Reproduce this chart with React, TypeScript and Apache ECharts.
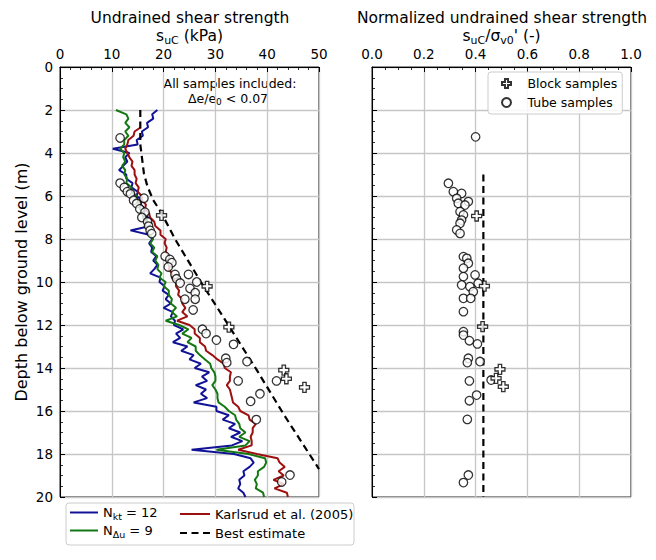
import React, { useEffect, useRef } from "react";
import * as echarts from "echarts";

// ---- Data ----
// CPT-derived profiles, depth in m, s_uC in kPa
const DEPTH = [
  2.0, 2.2, 2.4, 2.6, 2.8, 3.0, 3.2, 3.4, 3.6, 3.8,
  4.0, 4.2, 4.4, 4.6, 4.8, 5.0, 5.2, 5.4, 5.6, 5.8,
  6.0, 6.2, 6.4, 6.6, 6.8, 7.0, 7.2, 7.4, 7.6, 7.8,
  8.0, 8.2, 8.4, 8.6, 8.8, 9.0, 9.2, 9.4, 9.6, 9.8,
  10.0, 10.2, 10.4, 10.6, 10.8, 11.0, 11.2, 11.4, 11.6, 11.8,
  12.0, 12.2, 12.4, 12.6, 12.8, 13.0, 13.2, 13.4, 13.6, 13.8,
  14.0, 14.2, 14.4, 14.6, 14.8, 15.0, 15.2, 15.4, 15.6, 15.8,
  16.0, 16.2, 16.4, 16.6, 16.8, 17.0, 17.2, 17.4, 17.6, 17.8,
  18.0, 18.2, 18.4, 18.6, 18.8, 19.0, 19.2, 19.4, 19.6, 19.8,
  20.0,
];
const SU_NKT12 = [
  18.8, 17.8, 18.0, 16.8, 17.0, 15.8, 16.0, 14.8, 15.0, 10.2,
  13.4, 12.6, 13.0, 12.2, 11.4, 12.8, 12.8, 14.0, 13.8, 15.0,
  14.8, 15.8, 15.6, 16.4, 16.2, 17.0, 16.6, 17.4, 13.6, 17.2,
  17.8, 17.2, 17.8, 17.6, 18.6, 18.0, 18.8, 18.2, 17.4, 19.4,
  19.2, 20.2, 19.8, 21.0, 20.4, 21.4, 20.0, 21.8, 21.4, 22.2,
  22.0, 23.8, 22.4, 23.2, 21.8, 24.6, 23.4, 25.8, 25.0, 27.2,
  26.0, 28.8, 27.4, 28.4, 26.2, 28.2, 27.2, 28.4, 25.8, 30.2,
  30.2, 32.6, 31.4, 33.8, 32.6, 34.8, 33.0, 35.2, 33.2, 25.4,
  33.6, 36.8, 37.4, 36.6, 35.4, 35.6, 34.6, 34.8, 34.4, 35.4,
  35.8,
];
const SU_NDU9 = [
  10.8, 12.8, 13.2, 12.6, 13.4, 12.6, 13.2, 12.4, 12.4, 11.6,
  12.4, 12.2, 12.6, 12.0, 12.6, 12.4, 13.0, 12.8, 13.8, 13.8,
  14.8, 14.6, 15.6, 15.4, 16.2, 16.0, 16.8, 16.6, 17.4, 17.2,
  18.0, 17.4, 18.2, 17.8, 18.8, 18.4, 19.0, 18.8, 19.6, 19.2,
  20.4, 20.0, 21.0, 21.0, 21.6, 21.4, 22.4, 21.6, 22.6, 20.4,
  23.0, 24.8, 23.6, 25.4, 24.6, 26.2, 26.2, 27.0, 28.0, 29.0,
  29.2, 29.8, 30.0, 30.0, 29.4, 30.0, 30.4, 30.4, 30.6, 31.8,
  32.6, 33.8, 34.0, 34.6, 34.8, 35.8, 34.6, 36.6, 35.8, 30.2,
  36.4, 39.6, 39.8, 39.4, 38.2, 38.2, 37.6, 38.0, 37.8, 39.2,
  39.4,
];
const SU_KARLSRUD = [
  null, null, null, null, 15.6, 14.4, 14.2, 13.2, 13.0, 12.6,
  13.0, 13.4, 14.0, 13.8, 14.4, 14.4, 14.8, 14.6, 15.2, 15.0,
  15.8, 15.8, 16.6, 16.4, 17.2, 17.4, 18.2, 18.4, 19.4, 19.4,
  20.4, 20.2, 20.6, 20.4, 21.0, 20.6, 21.2, 21.0, 21.6, 21.6,
  22.4, 22.4, 23.0, 22.8, 23.6, 23.6, 24.2, 23.6, 24.6, 22.6,
  25.0, 26.0, 26.0, 27.0, 27.0, 28.0, 28.2, 29.4, 30.4, 31.6,
  31.8, 33.0, 32.8, 32.8, 32.2, 32.8, 33.0, 33.2, 33.4, 34.4,
  34.8, 36.4, 36.6, 37.8, 37.2, 37.2, 36.8, 37.0, 37.0, 34.4,
  38.0, 42.0, 42.4, 43.4, 42.2, 43.2, 41.2, 43.2, 41.4, 43.8,
  44.0,
];
const BEST_SU = [15.5, 15.5, 16.2, 16.9, 18.0, 19.6, 22.2, 27.2, 32.5, 38.0, 43.3, 50.0];
const BEST_DEPTH = [2.0, 3.6, 4.95, 5.57, 6.19, 6.8, 8.0, 10.0, 12.0, 14.1, 16.2, 18.7];

// Laboratory samples (left panel)
const TUBE_SU = [
  11.6, 11.6, 12.4, 13.0, 13.6, 16.2, 14.2, 14.8, 15.4, 16.4, 15.8, 16.9, 17.1, 17.4, 17.7,
  20.3, 21.2, 21.6, 20.9, 22.2, 24.8, 22.5, 26.4, 23.2, 25.1, 26.1, 24.1, 26.1, 25.7,
  27.5, 28.2, 30.2, 33.5, 32.0, 32.2, 36.1, 34.4, 41.8, 38.6, 36.8, 37.9, 44.4, 42.8,
];
const TUBE_DEPTH = [
  3.3, 5.4, 5.6, 5.8, 5.9, 6.1, 6.2, 6.35, 6.6, 6.75, 7.0, 7.2, 7.4, 7.6, 7.75,
  8.8, 8.95, 9.1, 9.3, 9.65, 9.65, 9.85, 10.0, 10.05, 10.3, 10.5, 10.8, 10.8, 11.3,
  12.2, 12.4, 12.7, 12.9, 13.55, 13.75, 13.7, 14.6, 14.6, 15.2, 15.55, 16.4, 18.98, 19.3,
];
const BLOCK_SU = [19.6, 28.4, 32.6, 43.2, 43.7, 47.2];
const BLOCK_DEPTH = [6.9, 10.2, 12.1, 14.1, 14.5, 14.9];

// Normalized (right panel)
const TUBE_RATIO = [
  0.40, 0.295, 0.314, 0.346, 0.327, 0.372, 0.333, 0.359, 0.34, 0.353, 0.346, 0.34, 0.327, 0.34,
  0.353, 0.366, 0.372, 0.353, 0.398, 0.353, 0.346, 0.378, 0.41, 0.391, 0.353, 0.381, 0.353,
  0.353, 0.353, 0.376, 0.407, 0.372, 0.368, 0.417, 0.46, 0.376, 0.404, 0.376, 0.368, 0.372, 0.353,
];
const TUBE_RATIO_DEPTH = [
  3.25, 5.41, 5.8, 5.88, 6.11, 6.26, 6.34, 6.42, 6.73, 6.88, 7.12, 7.27, 7.58, 7.74,
  8.82, 8.9, 9.13, 9.36, 9.67, 9.75, 10.14, 10.22, 10.06, 10.45, 10.76, 10.76, 11.38,
  12.31, 12.47, 12.73, 12.88, 13.55, 13.75, 13.7, 14.56, 14.6, 15.26, 15.52, 16.39, 18.98, 19.33,
];
const BLOCK_RATIO = [0.404, 0.434, 0.427, 0.494, 0.479, 0.507];
const BLOCK_RATIO_DEPTH = [6.93, 10.19, 12.08, 14.06, 14.48, 14.87];
const BEST_RATIO = [0.43, 0.43];
const BEST_RATIO_DEPTH = [5.0, 20.0];

const NAME_NKT = "N_kt = 12";
const NAME_NDU = "N_Δu = 9";
const NAME_KARLSRUD = "Karlsrud et al. (2005)";
const NAME_BEST = "Best estimate";
const NAME_BLOCK = "Block samples";
const NAME_TUBE = "Tube samples";

const FONT = "'DejaVu Sans', sans-serif";
const BLUE = "#121296";
const GREEN = "#137813";
const RED = "#9c1010";
const GRID = "#c6c6c6";
const PLUS = "path://M3.3,0H6.7V3.3H10V6.7H6.7V10H3.3V6.7H0V3.3H3.3Z";

function pairs(xs: (number | null)[], ys: number[]) {
  const out: number[][] = [];
  xs.forEach((x, i) => {
    if (x !== null && x !== undefined) out.push([x, ys[i]]);
  });
  return out;
}

const richMain = (size: number, sub: number) => ({
  a: { fontSize: size, lineHeight: size + 4, color: "#000", fontFamily: FONT },
  s: { fontSize: sub, lineHeight: sub, verticalAlign: "bottom", color: "#000", fontFamily: FONT },
});

function xAxisCfg(grid: number, max: number, name: string, fmt?: (v: number) => string) {
  return {
    gridIndex: grid,
    type: "value",
    position: "top",
    min: 0,
    max,
    interval: max / 5,
    name,
    nameLocation: "middle",
    nameGap: 21,
    nameMoveOverlap: false,
    nameTextStyle: { rich: richMain(15.5, 11) },
    axisLine: { show: true, onZero: false, lineStyle: { color: "#000", width: 1 } },
    axisTick: { show: true, inside: true, length: 5, lineStyle: { color: "#000", width: 1 } },
    minorTick: { show: true, splitNumber: grid === 0 ? 5 : 4, length: 3, lineStyle: { color: "#000", width: 0.8 } },
    axisLabel: { fontSize: 13.5, color: "#000", margin: 6, fontFamily: FONT, formatter: fmt },
    splitLine: { show: true, lineStyle: { color: GRID, width: 1.3 } },
  };
}

function yAxisCfg(grid: number, showLabel: boolean) {
  return {
    gridIndex: grid,
    type: "value",
    inverse: true,
    min: 0,
    max: 20,
    interval: 2,
    name: showLabel ? "Depth below ground level (m)" : "",
    nameLocation: "middle",
    nameGap: 31,
    nameMoveOverlap: false,
    nameTextStyle: { fontSize: 16, color: "#000", fontFamily: FONT },
    axisLine: { show: true, onZero: false, lineStyle: { color: "#000", width: 1 } },
    axisTick: { show: true, inside: true, length: 5, lineStyle: { color: "#000", width: 1 } },
    minorTick: { show: true, splitNumber: 4, length: 3, lineStyle: { color: "#000", width: 0.8 } },
    axisLabel: { show: showLabel, fontSize: 13.5, color: "#000", margin: 7, fontFamily: FONT },
    splitLine: { show: true, lineStyle: { color: GRID, width: 1.3 } },
  };
}

const circleStyle = { color: "#fff", borderColor: "#000", borderWidth: 1.3 };
const DASH = [7, 4.5];

export default function App() {
  const ref = useRef<HTMLDivElement>(null);
  useEffect(() => {
    if (!ref.current) return;
    const chart = echarts.init(ref.current, undefined, { renderer: "svg" });
    const option: any = {
      animation: false,
      backgroundColor: "#fff",
      textStyle: { fontFamily: FONT },
      grid: [
        { left: 60, top: 67, width: 259, height: 430, show: true, borderColor: "#000", borderWidth: 1, backgroundColor: "transparent" },
        { left: 372, top: 67, width: 259, height: 430, show: true, borderColor: "#000", borderWidth: 1, backgroundColor: "transparent" },
      ],
      xAxis: [
        xAxisCfg(0, 50, "{a|s}{s|uC}{a| (kPa)}"),
        xAxisCfg(1, 1, "{a|s}{s|uC}{a|/σ}{s|v0}{a|' (-)}", (v: number) => v.toFixed(1)),
      ],
      yAxis: [yAxisCfg(0, true), yAxisCfg(1, false)],
      legend: [
        {
          data: [NAME_NKT, NAME_NDU],
          orient: "vertical",
          left: 66,
          top: 503,
          padding: [3, 3, 3, 3],
          itemWidth: 28,
          itemHeight: 10,
          itemGap: 3,
          itemStyle: { opacity: 0 },
          formatter: (n: string) => (n === NAME_NKT ? "{a|N}{s|kt}{a| = 12}" : "{a|N}{s|Δu}{a| = 9}"),
          textStyle: { rich: richMain(13, 9.5) },
        },
        {
          data: [NAME_KARLSRUD, NAME_BEST],
          orient: "vertical",
          left: 176,
          top: 503,
          padding: [3, 3, 3, 3],
          itemWidth: 30,
          itemHeight: 10,
          itemGap: 3,
          itemStyle: { opacity: 0 },
          textStyle: { fontSize: 13, lineHeight: 16, color: "#000", fontFamily: FONT },
        },
        {
          data: [NAME_BLOCK, NAME_TUBE],
          orient: "vertical",
          left: 488,
          top: 72,
          padding: [4, 5, 4, 13],
          itemWidth: 32,
          itemHeight: 9,
          itemGap: 4,
          backgroundColor: "rgba(255,255,255,0.85)",
          borderColor: "#cccccc",
          borderWidth: 1,
          borderRadius: 3,
          textStyle: { fontSize: 12.5, lineHeight: 15, color: "#000", fontFamily: FONT },
        },
      ],
      graphic: [
        {
          type: "rect",
          z: -1,
          shape: { x: 66, y: 503, width: 288, height: 42, r: 3 },
          style: { fill: "rgba(255,255,255,0.85)", stroke: "#cccccc", lineWidth: 1 },
        },
        {
          type: "text",
          x: 190,
          y: 18,
          style: { text: "Undrained shear strength", fontSize: 15.5, fontFamily: FONT, fill: "#000", align: "center", verticalAlign: "middle" },
        },
        {
          type: "text",
          x: 502,
          y: 18,
          style: { text: "Normalized undrained shear strength", fontSize: 15.5, fontFamily: FONT, fill: "#000", align: "center", verticalAlign: "middle" },
        },
        {
          type: "text",
          x: 230,
          y: 83,
          style: { text: "All samples included:", fontSize: 12.5, fontFamily: FONT, fill: "#000", align: "center", verticalAlign: "middle" },
        },
        {
          type: "text",
          x: 228,
          y: 98,
          style: {
            text: "{a|Δe/e}{s|0}{a| < 0.07}",
            align: "center",
            verticalAlign: "middle",
            rich: {
              a: { fontSize: 12.5, lineHeight: 16, fill: "#000", fontFamily: FONT },
              s: { fontSize: 9, lineHeight: 9, verticalAlign: "bottom", fill: "#000", fontFamily: FONT },
            },
          },
        },
      ],
      series: [
        { type: "line", name: NAME_NKT, xAxisIndex: 0, yAxisIndex: 0, data: pairs(SU_NKT12, DEPTH), symbol: "none", lineStyle: { color: BLUE, width: 2 }, itemStyle: { color: BLUE }, z: 2 },
        { type: "line", name: NAME_NDU, xAxisIndex: 0, yAxisIndex: 0, data: pairs(SU_NDU9, DEPTH), symbol: "none", lineStyle: { color: GREEN, width: 2 }, itemStyle: { color: GREEN }, z: 2 },
        { type: "line", name: NAME_KARLSRUD, xAxisIndex: 0, yAxisIndex: 0, data: pairs(SU_KARLSRUD, DEPTH), symbol: "none", lineStyle: { color: RED, width: 2 }, itemStyle: { color: RED }, z: 2 },
        { type: "line", name: NAME_BEST, xAxisIndex: 0, yAxisIndex: 0, data: pairs(BEST_SU, BEST_DEPTH), symbol: "none", lineStyle: { color: "#000", width: 2.2, type: DASH }, itemStyle: { color: "#000" }, z: 3 },
        { type: "scatter", name: NAME_TUBE, xAxisIndex: 0, yAxisIndex: 0, data: pairs(TUBE_SU, TUBE_DEPTH), symbol: "circle", symbolSize: 8.5, itemStyle: circleStyle, z: 4 },
        { type: "scatter", name: NAME_BLOCK, xAxisIndex: 0, yAxisIndex: 0, data: pairs(BLOCK_SU, BLOCK_DEPTH), symbol: PLUS, symbolSize: 10, itemStyle: circleStyle, z: 5 },
        { type: "line", name: NAME_BEST, xAxisIndex: 1, yAxisIndex: 1, data: pairs(BEST_RATIO, BEST_RATIO_DEPTH), symbol: "none", lineStyle: { color: "#000", width: 2.2, type: DASH }, itemStyle: { color: "#000" }, z: 3 },
        { type: "scatter", name: NAME_TUBE, xAxisIndex: 1, yAxisIndex: 1, data: pairs(TUBE_RATIO, TUBE_RATIO_DEPTH), symbol: "circle", symbolSize: 8.5, itemStyle: circleStyle, z: 4 },
        { type: "scatter", name: NAME_BLOCK, xAxisIndex: 1, yAxisIndex: 1, data: pairs(BLOCK_RATIO, BLOCK_RATIO_DEPTH), symbol: PLUS, symbolSize: 10, itemStyle: circleStyle, z: 5 },
      ],
    };
    chart.setOption(option);
    return () => chart.dispose();
  }, []);
  return <div ref={ref} style={{ position: "fixed", left: 0, top: 0, width: 656, height: 560 }} />;
}
